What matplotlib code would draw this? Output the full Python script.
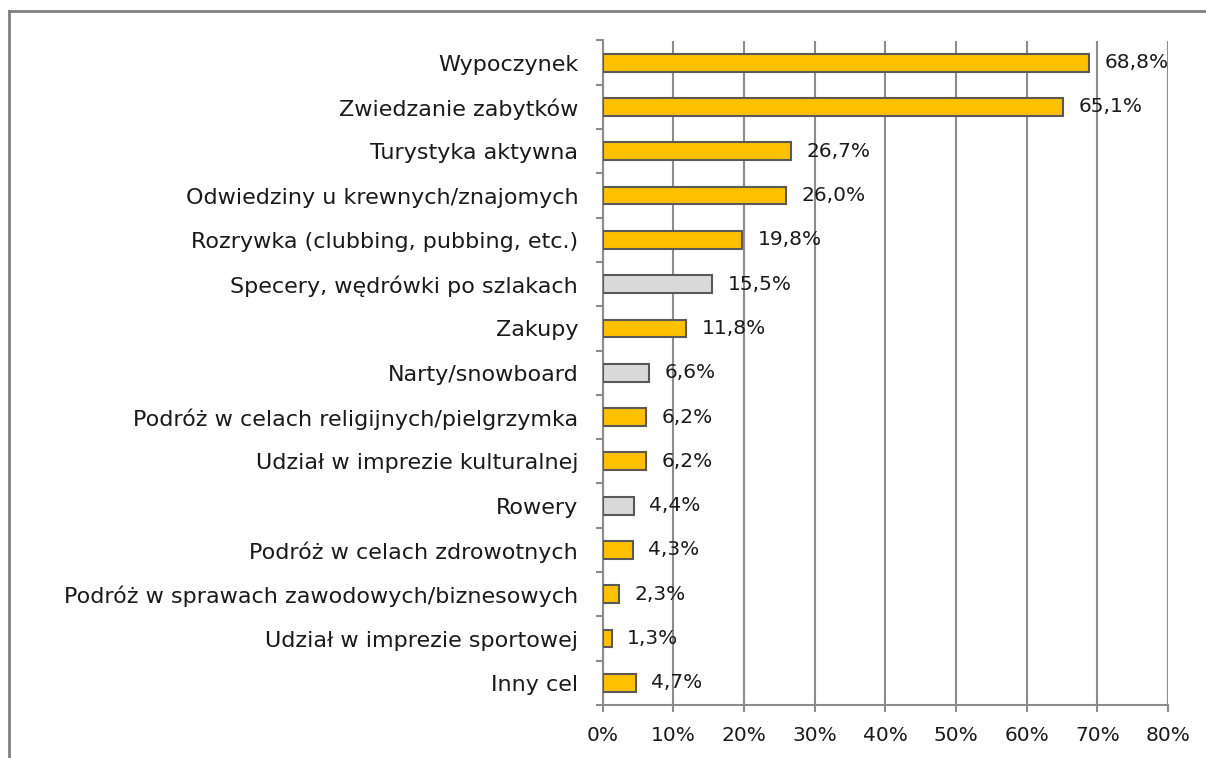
import matplotlib
matplotlib.use("Agg")
import matplotlib.pyplot as plt
from matplotlib.lines import Line2D
import numpy as np

plt.rcParams['font.family'] = ['DejaVu Sans']

categories = [
    "Wypoczynek",
    "Zwiedzanie zabytków",
    "Turystyka aktywna",
    "Odwiedziny u krewnych/znajomych",
    "Rozrywka (clubbing, pubbing, etc.)",
    "Specery, wędrówki po szlakach",
    "Zakupy",
    "Narty/snowboard",
    "Podróż w celach religijnych/pielgrzymka",
    "Udział w imprezie kulturalnej",
    "Rowery",
    "Podróż w celach zdrowotnych",
    "Podróż w sprawach zawodowych/biznesowych",
    "Udział w imprezie sportowej",
    "Inny cel",
]
values = [68.8, 65.1, 26.7, 26.0, 19.8, 15.5, 11.8, 6.6, 6.2, 6.2, 4.4, 4.3, 2.3, 1.3, 4.7]
highlight = [False, False, False, False, False, True, False, True, False, False, True, False, False, False, False]
value_labels = ["68,8%", "65,1%", "26,7%", "26,0%", "19,8%", "15,5%", "11,8%", "6,6%",
                "6,2%", "6,2%", "4,4%", "4,3%", "2,3%", "1,3%", "4,7%"]
xticks = [0, 10, 20, 30, 40, 50, 60, 70, 80]
xtick_labels = ["0%", "10%", "20%", "30%", "40%", "50%", "60%", "70%", "80%"]

W, H = 1206, 758
fig = plt.figure(figsize=(W / 100, H / 100), dpi=100)
ax = fig.add_axes([602.5 / W, 1 - 705 / H, (1168 - 602.5) / W, (705 - 40.5) / H])

gold = "#FFC000"
grey = "#D9D9D9"
edge = "#595959"
gridc = "#8C8C8C"
fs = 14.5

y = np.arange(len(categories))
colors = [grey if h else gold for h in highlight]
ax.barh(y, values, height=0.4, color=colors, edgecolor=edge, linewidth=1.5, zorder=3)

ax.set_xlim(0, 80)
ax.set_ylim(len(categories) - 0.5, -0.5)
ax.set_xticks(xticks)
ax.set_xticklabels(xtick_labels, fontsize=fs, color="#1a1a1a")
ax.set_yticks(y)
ax.set_yticklabels(categories, fontsize=16, color="#1a1a1a")
ax.tick_params(axis='y', length=0, pad=17.5)
ax.set_yticks(np.arange(len(categories) + 1) - 0.5, minor=True)
ax.tick_params(axis='y', which='minor', length=5, color=gridc, width=1.5)
ax.tick_params(axis='x', length=5, color=gridc, width=1.5, pad=10)
ax.xaxis.grid(True, color=gridc, linewidth=1.5, zorder=0)
ax.set_axisbelow(True)
for s in ['top', 'right']:
    ax.spines[s].set_visible(False)
for s in ['left', 'bottom']:
    ax.spines[s].set_color(gridc)
    ax.spines[s].set_linewidth(1.5)

for yi, v, lab in zip(y, values, value_labels):
    ax.text(v + 2.2, yi, lab, va='center', ha='left', fontsize=fs, color="#1a1a1a", zorder=4)

# outer frame (partially visible)
fig.add_artist(Line2D([9 / W, 9 / W], [0, 1 - 11 / H], transform=fig.transFigure,
                      color="#808080", linewidth=2))
fig.add_artist(Line2D([9 / W, 1], [1 - 11 / H, 1 - 11 / H], transform=fig.transFigure,
                      color="#808080", linewidth=2))

fig.savefig("out.png", dpi=100)
